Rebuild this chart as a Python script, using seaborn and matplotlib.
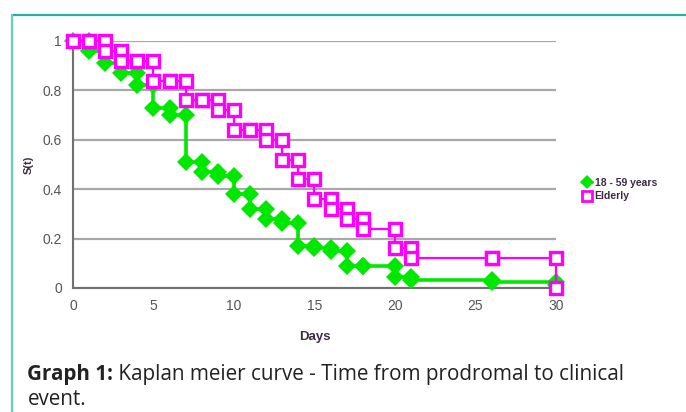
import numpy as np
import pandas as pd
import seaborn as sns
import matplotlib.pyplot as plt
from matplotlib.lines import Line2D

# Kaplan-Meier survival (value after each event day)
days_young = [0, 1, 2, 3, 4, 5, 6, 7, 8, 9, 10, 11, 12, 13, 14, 15, 16, 17, 18, 20, 21, 26, 30]
surv_young = [1.0, 0.96, 0.91, 0.87, 0.82, 0.73, 0.70, 0.51, 0.47, 0.455, 0.38, 0.32, 0.28, 0.265,
              0.17, 0.16, 0.15, 0.09, 0.09, 0.045, 0.032, 0.024, 0.012]

days_old = [0, 1, 2, 3, 4, 5, 6, 7, 8, 9, 10, 11, 12, 13, 14, 15, 16, 17, 18, 20, 21, 26, 30]
surv_old = [1.0, 1.0, 0.96, 0.92, 0.92, 0.84, 0.84, 0.76, 0.76, 0.72, 0.64, 0.64, 0.60, 0.52,
            0.44, 0.36, 0.32, 0.28, 0.24, 0.16, 0.12, 0.12, 0.0]

groups = ["18 - 59 years", "Elderly"]
y_ticks = [0, 0.2, 0.4, 0.6, 0.8, 1]
y_labels = ["0", "0.2", "0.4", "0.6", "0.8", "1"]
x_ticks = [0, 5, 10, 15, 20, 25, 30]


def km_steps(days, surv, name):
    # step curve: point before and after each drop
    rows = []
    for i, (t, s) in enumerate(zip(days, surv)):
        if i > 0:
            rows.append((t, surv[i - 1]))
        rows.append((t, s))
    d = pd.DataFrame(rows, columns=["Days", "S(t)"])
    d["group"] = name
    return d


df_young = km_steps(days_young, surv_young, groups[0])
df_old = km_steps(days_old, surv_old, groups[1])

sns.set_style("white")
plt.rcParams["font.family"] = ["Liberation Sans", "DejaVu Sans"]

fig = plt.figure(figsize=(6.86, 4.12), dpi=100)
ax = fig.add_axes([0.1064, 0.301, 0.704, 0.5995])

green = "#00e800"
magenta = "#ff00ff"

sns.lineplot(data=df_young, x="Days", y="S(t)", sort=False, estimator=None, ax=ax,
             color=green, lw=2.6, marker="D", markersize=9.5, markeredgewidth=0,
             markerfacecolor=green, clip_on=False, zorder=3)
sns.lineplot(data=df_old, x="Days", y="S(t)", sort=False, estimator=None, ax=ax,
             color=magenta, lw=1.6, marker="s", markersize=9, markeredgewidth=2.4,
             markerfacecolor="white", markeredgecolor=magenta, clip_on=False, zorder=4)

ax.set_xlim(0, 30)
ax.set_ylim(0, 1)
ax.set_xticks(x_ticks)
ax.set_yticks(y_ticks)
ax.set_yticklabels(y_labels)
ax.yaxis.grid(True, color="#a8a8a8", lw=1.6)
ax.set_axisbelow(True)
for side in ["top", "right"]:
    ax.spines[side].set_visible(False)
for side in ["left", "bottom"]:
    ax.spines[side].set_color("#707070")
    ax.spines[side].set_linewidth(1.5)
ax.tick_params(axis="both", direction="out", length=4, width=1.2, color="#707070",
               labelsize=10, labelcolor="#555555", pad=4)

ax.set_xlabel("Days", fontsize=9.5, fontweight="bold", color="#3d2b45", labelpad=13)
ax.set_ylabel("S(t)", fontsize=8, fontweight="bold", color="#3d2b45", labelpad=6)

handles = [
    Line2D([], [], color=green, lw=2, marker="D", markersize=7, markeredgewidth=0),
    Line2D([], [], color=magenta, lw=0, marker="s", markersize=6.5, markeredgewidth=2,
           markerfacecolor="white", markeredgecolor=magenta),
]
fig.legend(handles, groups, loc="center left", bbox_to_anchor=(0.835, 0.54),
           frameon=False, handlelength=0.9, handletextpad=0.3,
           labelspacing=0.35, prop={"weight": "bold", "size": 7.5},
           labelcolor="#3d2b45")

# teal frame around the figure block
fig.add_artist(Line2D([0.0175, 1.0], [0.9636, 0.9636], color="#22b39c", lw=1.6,
                      transform=fig.transFigure))
fig.add_artist(Line2D([0.0175, 0.0175], [0.0, 0.9636], color="#62d0c4", lw=1.6,
                      transform=fig.transFigure))

# caption
cap_font = ["Open Sans", "DejaVu Sans"]
cap = fig.text(0.04, 0.078, "Graph 1:", fontsize=14.9, fontweight="bold",
               color="#222222", family=cap_font, va="baseline")
fig.canvas.draw()
ax.annotate(" Kaplan meier curve - Time from prodromal to clinical", xy=(1, 0),
            xycoords=cap, va="bottom", fontsize=14.9, color="#222222",
            family=cap_font, annotation_clip=False)
fig.text(0.04, 0.017, "event.", fontsize=14.9, color="#222222",
         family=cap_font, va="baseline")

fig.savefig("out.png", dpi=100, facecolor="white")
